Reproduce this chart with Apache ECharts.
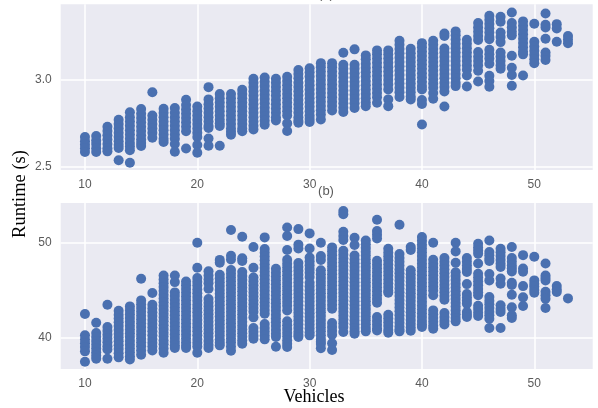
<!DOCTYPE html>
<html>
<head>
<meta charset="utf-8">
<style>html,body{margin:0;padding:0;background:#fff}#c{width:598px;height:408px;filter:blur(0.55px)}</style>
<script src="https://cdn.jsdelivr.net/npm/echarts@6/dist/echarts.min.js"></script>
</head>
<body>
<div id="c"></div>
<script>
const vehicles = [10,11,12,13,14,15,16,17,18,19,20,21,22,23,24,25,26,27,28,29,30,31,32,33,34,35,36,37,38,39,40,41,42,43,44,45,46,47,48,49,50,51,52,53];
const xTicks = [10,20,30,40,50];
const yTicksA = [2.5,3.0];
const yTicksB = [40,50];
const runtimeA = [
[2.67,2.645,2.625,2.605,2.583],
[2.676,2.65,2.63,2.605,2.583],
[2.73,2.705,2.68,2.655,2.63,2.605,2.587],
[2.77,2.745,2.72,2.695,2.67,2.645,2.625,2.606,2.535],
[2.813,2.785,2.76,2.735,2.71,2.685,2.66,2.635,2.615,2.593,2.521],
[2.832,2.805,2.78,2.755,2.73,2.705,2.68,2.655,2.635,2.618],
[2.929,2.795,2.77,2.745,2.72,2.695,2.666],
[2.834,2.81,2.785,2.76,2.735,2.71,2.685,2.66,2.641],
[2.838,2.81,2.785,2.76,2.735,2.71,2.685,2.66,2.63,2.585],
[2.886,2.855,2.83,2.805,2.78,2.755,2.73,2.703,2.604],
[2.847,2.82,2.795,2.77,2.745,2.72,2.695,2.67,2.624,2.579],
[2.959,2.888,2.86,2.835,2.81,2.785,2.76,2.735,2.722,2.662,2.62],
[2.919,2.895,2.87,2.845,2.82,2.795,2.77,2.75,2.734,2.62],
[2.919,2.895,2.87,2.845,2.82,2.795,2.77,2.745,2.72,2.7,2.683],
[2.944,2.92,2.895,2.87,2.845,2.82,2.795,2.77,2.745,2.72,2.703],
[3.008,2.985,2.96,2.935,2.91,2.885,2.86,2.835,2.81,2.785,2.76,2.735,2.714],
[3.015,2.99,2.965,2.94,2.915,2.89,2.865,2.84,2.815,2.79,2.765,2.741],
[3.008,2.985,2.96,2.935,2.91,2.885,2.86,2.835,2.81,2.785,2.766],
[3.019,2.995,2.97,2.945,2.92,2.895,2.87,2.845,2.82,2.795,2.749,2.705],
[3.058,3.035,3.01,2.985,2.96,2.935,2.91,2.885,2.86,2.835,2.81,2.785,2.765,2.753],
[3.069,3.045,3.02,2.995,2.97,2.945,2.92,2.895,2.87,2.845,2.82,2.795,2.775,2.757],
[3.098,3.075,3.05,3.025,3.0,2.975,2.95,2.925,2.9,2.875,2.85,2.825,2.8,2.772],
[3.098,3.075,3.05,3.025,3.0,2.975,2.95,2.925,2.9,2.875,2.85,2.824],
[3.158,3.089,3.065,3.04,3.015,2.99,2.965,2.94,2.915,2.89,2.865,2.84,2.815],
[3.178,3.089,3.065,3.04,3.015,2.99,2.965,2.94,2.915,2.89,2.865,2.838],
[3.143,3.12,3.095,3.07,3.045,3.02,2.995,2.97,2.945,2.92,2.895,2.87,2.849],
[3.172,3.15,3.125,3.1,3.075,3.05,3.025,3.0,2.975,2.95,2.925,2.9,2.869],
[3.172,3.15,3.125,3.1,3.075,3.05,3.025,3.0,2.975,2.946,2.888,2.849],
[3.228,3.205,3.18,3.155,3.13,3.105,3.08,3.055,3.03,3.005,2.98,2.955,2.93,2.902],
[3.181,3.155,3.13,3.105,3.08,3.055,3.03,3.005,2.98,2.955,2.93,2.905,2.888],
[3.214,3.19,3.165,3.14,3.115,3.09,3.065,3.04,3.015,2.99,2.965,2.946,2.884,2.861,2.743],
[3.228,3.205,3.18,3.155,3.13,3.105,3.08,3.055,3.03,3.005,2.98,2.955,2.925,2.892],
[3.27,3.255,3.183,3.16,3.135,3.11,3.085,3.06,3.035,3.01,2.985,2.96,2.934,2.847],
[3.282,3.26,3.235,3.21,3.185,3.16,3.135,3.11,3.085,3.06,3.035,3.01,2.985,2.965],
[3.234,3.21,3.185,3.16,3.135,3.11,3.085,3.06,3.027,2.963],
[3.33,3.305,3.28,3.255,3.232,3.162,3.135,3.11,3.085,3.054,2.992],
[3.373,3.35,3.325,3.3,3.275,3.25,3.236,3.176,3.15,3.125,3.095,3.025,2.995,2.961],
[3.367,3.338,3.276,3.25,3.22,3.16,3.135,3.11,3.085,3.066],
[3.392,3.33,3.305,3.28,3.259,3.141,3.071,3.029,2.967],
[3.34,3.315,3.29,3.265,3.24,3.215,3.19,3.165,3.149,3.027],
[3.326,3.222,3.195,3.17,3.145,3.12,3.097],
[3.386,3.32,3.305,3.239,3.16,3.14,3.116],
[3.324,3.299,3.222],
[3.255,3.235,3.214]
];
const runtimeB = [
[42.52,40.28,39.85,39.45,39.05,38.6,37.52],
[41.6,40.52,40.1,39.7,39.3,38.9,38.5,38.15,37.83],
[43.5,41.15,40.75,40.35,39.95,39.55,39.15,38.8,37.83],
[42.87,42.45,42.05,41.65,41.25,40.85,40.45,40.05,39.65,39.25,38.85,38.4,37.97],
[43.32,42.9,42.5,42.1,41.7,41.3,40.9,40.5,40.1,39.7,39.3,38.9,38.5,38.1,37.76],
[46.22,43.95,43.55,43.15,42.75,42.35,41.95,41.55,41.15,40.75,40.35,39.95,39.55,39.15,38.7,38.25],
[44.72,43.5,43.1,42.7,42.3,41.9,41.5,41.1,40.7,40.3,39.9,39.5,39.1,38.7],
[46.57,46.15,45.75,45.35,44.95,44.55,44.15,43.75,43.35,42.95,42.55,42.15,41.75,41.35,40.95,40.55,40.15,39.75,39.35,38.9,38.46],
[46.57,45.87,44.79,44.4,44.0,43.6,43.2,42.8,42.4,42.0,41.6,41.2,40.8,40.4,40.0,39.6,39.25,38.95],
[45.94,45.55,45.15,44.75,44.35,43.95,43.55,43.15,42.75,42.35,41.95,41.55,41.15,40.75,40.35,39.95,39.55,39.2,38.95],
[50,47.38,46.29,45.9,45.5,45.1,44.7,44.3,43.9,43.5,43.1,42.7,42.3,41.9,41.5,41.1,40.7,40.3,39.9,39.5,39.1,38.46],
[47,46.55,46.15,45.75,45.17,44.09,43.7,43.3,42.9,42.5,42.1,41.7,41.3,40.9,40.5,40.1,39.7,39.3,38.95],
[48.2,47.9,46.64,46.25,45.85,45.45,45.05,44.65,44.25,43.85,43.45,43.05,42.65,42.25,41.85,41.45,41.05,40.65,40.25,39.85,39.5,39.23],
[51.33,48.64,48.25,47.13,46.75,46.35,45.95,45.55,45.15,44.75,44.35,43.95,43.55,43.15,42.75,42.35,41.95,41.55,41.15,40.75,40.35,39.95,39.55,39.1,38.67],
[50.63,48.36,48.08,46.92,46.5,46.1,45.7,45.3,44.9,44.5,44.1,43.7,43.3,42.9,42.5,42.1,41.7,41.3,40.9,40.5,40.1,39.75,39.4],
[49.55,47.38,46.36,45.95,45.55,45.15,44.75,44.35,43.95,43.55,43.15,42.75,42.17,41.05,40.65,40.25,39.93],
[50.56,49.34,48.95,48.55,48.15,47.75,47.35,46.95,46.55,46.15,45.75,45.35,44.95,44.55,44.15,43.75,43.35,42.95,42.55,41.47,41.05,40.65,40.25,39.86],
[47.27,46.85,46.45,46.05,45.65,45.25,44.85,44.45,44.05,43.65,43.25,42.85,42.45,42.05,41.65,41.25,40.85,40.45,40.1,39.09],
[51.6,50.7,49.23,48.22,47.8,47.4,47.0,46.6,46.2,45.8,45.4,45.0,44.6,44.2,43.8,43.4,42.9,41.75,41.35,40.95,40.55,40.15,39.75,39.4,39.06],
[51.43,49.8,49.4,47.87,47.45,47.05,46.65,46.25,45.85,45.45,45.05,44.65,44.25,43.85,43.45,43.05,42.65,42.25,41.85,41.45,41.05,40.65,40.35,40.1],
[50.98,49.4,48.46,48.05,47.65,47.25,46.85,46.4,45.8,45.4,45.0,44.6,44.2,43.8,43.4,43.0,42.6,42.2,41.8,41.4,41.0,40.6,40.28],
[50,48.6,48.2,47.1,46.7,46.3,45.9,45.5,45.1,44.7,44.3,43.9,43.5,43.1,42.7,42.3,41.9,41.5,41.1,40.7,40.3,39.9,39.6,39.37,38.92],
[49.51,49.1,48.7,48.3,47.9,47.5,47.1,46.7,46.3,45.9,45.5,45.1,44.7,44.3,43.9,43.5,43.08,41.57,41.15,40.75,40.35,39.44,38.74],
[53.32,53.0,51.15,50.7,50.28,49.16,48.75,48.35,47.95,47.55,47.15,46.75,46.35,45.95,45.55,45.15,44.75,44.35,43.95,43.55,43.15,42.75,42.35,41.95,41.55,41.15,40.63],
[50.52,49.76,48.67,48.25,47.85,47.45,47.05,46.65,46.25,45.85,45.45,45.05,44.65,44.25,43.85,43.45,43.05,42.65,42.25,41.85,41.45,41.05,40.7,40.45],
[50.24,49.85,49.45,49.05,48.65,48.25,47.85,47.45,47.05,46.65,46.25,45.85,45.45,45.05,44.65,44.25,43.85,43.45,43.05,42.65,42.25,41.85,41.45,41.05,40.7],
[52.41,51.22,50.85,50.45,48.11,47.7,47.3,46.9,46.5,46.1,45.7,45.3,44.9,44.5,44.1,43.71,42.2,41.8,41.4,41.0,40.8],
[49.37,48.95,48.55,48.15,47.75,47.35,46.95,46.55,46.15,45.75,45.35,44.95,44.76,42.45,42.05,41.65,41.25,40.85,40.56],
[51.89,48.81,48.4,48.0,47.6,47.2,46.8,46.4,46.0,45.6,45.2,44.8,44.4,44.0,43.6,43.2,42.8,42.4,42.0,41.6,41.2,40.9,40.7],
[49.55,49.23,47.1,46.7,46.3,45.9,45.5,45.1,44.7,44.3,43.9,43.5,43.1,42.7,42.3,41.9,41.5,41.1,40.77],
[50.6,50.2,49.8,49.4,49.0,48.6,48.2,47.8,47.4,47.0,46.6,46.2,45.8,45.4,45.0,44.6,44.2,43.8,43.4,43.0,42.6,42.2,41.8,41.45,41.15],
[50,48.22,47.8,47.4,47.0,46.6,46.2,45.8,45.4,45.0,44.48,42.9,42.5,42.1,41.7,41.3,40.98],
[48.39,48.0,47.6,47.2,46.8,46.4,46.0,45.6,45.2,44.8,44.4,44.02,42.62,42.2,41.8,41.43],
[50,49.09,47.9,46.89,46.5,46.1,45.7,45.3,44.9,44.5,44.1,43.7,43.3,42.9,42.5,42.1,41.75],
[48.39,48.0,47.6,47.25,46.92,45.66,44.62,44.25,43.9,43.6,42.73,42.45,42.2],
[49.9,49.5,49.15,48.85,47.83,46.75,46.35,45.95,45.55,45.15,44.8,44.48,43.39,43.05,42.65,42.31],
[50.24,49.02,48.7,48.35,48.08,46.71,46.05,44.3,43.9,43.55,43.15,42.75,42.4,42.03,41.05],
[49.37,49.0,48.6,48.2,47.8,47.45,46.25,45.7,43.43,43.05,42.73,41.05],
[49.55,48.39,48.0,47.6,47.3,46.99,45.8,45.56,44.55,43.22,42.38,42.1],
[48.7,47.3,46.96,45.45,44.27,43.36],
[48.53,46.05,45.7,45.4,45.05,44.76],
[47.83,46.57,46.3,46.05,44.86,44.5,44.13,43.15],
[45.45,45.1,44.83],
[44.16]
];
const seriesPoints = (lists) => lists.flatMap((vals, i) => vals.map(v => [vehicles[i], v]));
const GRAY = '#5a5a5a', BLUE = '#4a70b0', BG = '#eaeaf2';
const sans = '"Liberation Sans", Arial, sans-serif', serif = '"Liberation Serif", "Times New Roman", serif';
const xAxis = (g) => ({
  type:'value', gridIndex:g, min:7.84, max:55.2, position:'bottom',
  axisLine:{show:false}, axisTick:{show:false, customValues:xTicks},
  axisLabel:{customValues:xTicks, color:GRAY, fontSize:12, fontFamily:sans, margin:9},
  splitLine:{show:true, lineStyle:{color:'#fff', width:1.5}}
});
const yAxis = (g, min, max, ticks, fmt) => ({
  type:'value', gridIndex:g, min, max,
  axisLine:{show:false}, axisTick:{show:false, customValues:ticks},
  axisLabel:{customValues:ticks, color:GRAY, fontSize:12, fontFamily:sans, margin:9, formatter:fmt},
  splitLine:{show:true, lineStyle:{color:'#fff', width:1.5}}
});
const chart = echarts.init(document.getElementById('c'), null, {renderer:'canvas', width:598, height:408});
chart.setOption({
  animation:false,
  backgroundColor:'#fff',
  grid:[
    {left:60.7, top:4.3, width:532, height:165.7, show:true, backgroundColor:BG, borderWidth:0},
    {left:60.7, top:203, width:532, height:166, show:true, backgroundColor:BG, borderWidth:0}
  ],
  xAxis:[xAxis(0), xAxis(1)],
  yAxis:[
    yAxis(0, 2.479, 3.439, yTicksA, v => v.toFixed(1)),
    yAxis(1, 36.75, 54.17, yTicksB, v => String(v))
  ],
  series:[
    {type:'scatter', xAxisIndex:0, yAxisIndex:0, data:seriesPoints(runtimeA), symbolSize:10, itemStyle:{color:BLUE, opacity:1}, silent:true},
    {type:'scatter', xAxisIndex:1, yAxisIndex:1, data:seriesPoints(runtimeB), symbolSize:10, itemStyle:{color:BLUE, opacity:1}, silent:true}
  ],
  graphic:[
    {type:'text', x:326, y:191, style:{text:'(b)', fill:GRAY, font:'13px '+sans, textAlign:'center', textVerticalAlign:'middle'}},
    {type:'text', x:326, y:-6, style:{text:'(a)', fill:GRAY, font:'13px '+sans, textAlign:'center', textVerticalAlign:'middle'}},
    {type:'text', x:314, y:397, style:{text:'Vehicles', fill:'#000', font:'18px '+serif, textAlign:'center', textVerticalAlign:'middle'}},
    {type:'text', x:20, y:194, rotation:Math.PI/2, style:{text:'Runtime (s)', fill:'#000', font:'18.5px '+serif, textAlign:'center', textVerticalAlign:'middle'}}
  ]
});
</script>
</body>
</html>
